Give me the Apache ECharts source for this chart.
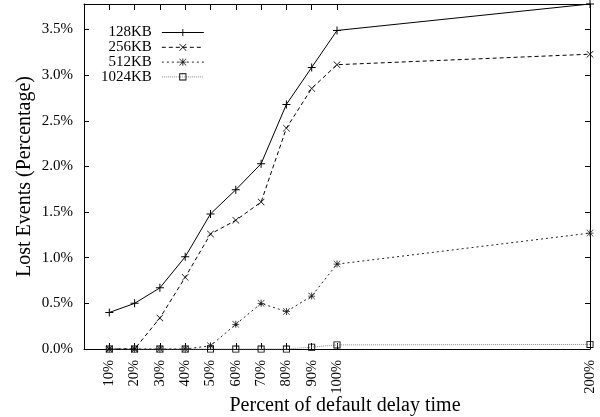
<!DOCTYPE html>
<html>
<head>
<meta charset="utf-8">
<script src="https://cdn.jsdelivr.net/npm/echarts@6/dist/echarts.min.js"></script>
<style>html,body{margin:0;padding:0;background:#fff}#c{width:600px;height:417px}</style>
</head>
<body>
<div id="c"></div>
<script>
const xValues = [10, 20, 30, 40, 50, 60, 70, 80, 90, 100, 200];
const xTickValues = [10, 20, 30, 40, 50, 60, 70, 80, 90, 100, 200];
const yTickValues = [0, 0.5, 1.0, 1.5, 2.0, 2.5, 3.0, 3.5];
const seriesNames = ['128KB', '256KB', '512KB', '1024KB'];
const s128 = [0.40, 0.50, 0.67, 1.01, 1.48, 1.745, 2.03, 2.68, 3.085, 3.49, 3.78];
const s256 = [0, 0, 0.34, 0.785, 1.26, 1.41, 1.61, 2.42, 2.855, 3.115, 3.23];
const s512 = [0, 0, 0, 0, 0.035, 0.27, 0.50, 0.41, 0.58, 0.93, 1.27];
const s1024 = [0, 0, 0, 0, 0, 0, 0, 0, 0.02, 0.045, 0.05];

const FONT = '"Liberation Serif", "DejaVu Serif", serif';
const plusPath = 'path://M0,7L16,7L16,9L0,9Z M7,0L9,0L9,16L7,16Z';
const crossPath = 'path://M1,0L8,7L15,0L16,1L9,8L16,15L15,16L8,9L1,16L0,15L7,8L0,1Z';
const starPath = 'path://M0,7L16,7L16,9L0,9Z M7,0L9,0L9,16L7,16Z M1,0L8,7L15,0L16,1L9,8L16,15L15,16L8,9L1,16L0,15L7,8L0,1Z';
const boxPath = 'path://M0,0L16,0L16,16L0,16Z M2,2L2,14L14,14L14,2Z';

function pts(arr) { return xValues.map((x, i) => [x, arr[i]]); }

const chart = echarts.init(document.getElementById('c'), null, {renderer: 'canvas'});
const axisLineStyle = {color: '#000', width: 1};
chart.setOption({
  animation: false,
  backgroundColor: '#fff',
  textStyle: {fontFamily: FONT, color: '#000'},
  grid: {left: 84, top: 4, right: 10, bottom: 68, containLabel: false, outerBoundsMode: 'none'},
  legend: {
    orient: 'vertical',
    left: 96, top: 20,
    align: 'right',
    itemWidth: 42, itemHeight: 9, itemGap: -0.2,
    lineStyle: {width: 1},
    textStyle: {fontFamily: FONT, fontSize: 15, color: '#000', padding: [0, 5, 0, 0]},
    data: seriesNames
  },
  xAxis: [{
    type: 'value', min: 0, max: 200, position: 'bottom',
    name: 'Percent of default delay time', nameLocation: 'middle', nameGap: 47, nameMoveOverlap: false,
    nameTextStyle: {fontFamily: FONT, fontSize: 20, color: '#000', padding: [0, 0, 0, 16]},
    axisLine: {show: true, onZero: false, lineStyle: axisLineStyle},
    axisTick: {show: true, inside: true, length: 6, customValues: xTickValues, lineStyle: axisLineStyle},
    axisLabel: {show: true, rotate: 90, margin: 11, fontFamily: FONT, fontSize: 14.5, color: '#000',
      customValues: xTickValues, formatter: v => v + '%'},
    splitLine: {show: false}
  }, {
    type: 'value', min: 0, max: 200, position: 'top',
    axisLine: {show: true, onZero: false, lineStyle: axisLineStyle},
    axisTick: {show: true, inside: true, length: 6, customValues: xTickValues.slice(0, 10), lineStyle: axisLineStyle},
    axisLabel: {show: false},
    splitLine: {show: false}
  }],
  yAxis: [{
    type: 'value', min: 0, max: 3.78, position: 'left',
    name: 'Lost Events (Percentage)', nameLocation: 'middle', nameGap: 49, nameMoveOverlap: false,
    nameTextStyle: {fontFamily: FONT, fontSize: 20, color: '#000'},
    axisLine: {show: true, onZero: false, lineStyle: axisLineStyle},
    axisTick: {show: true, inside: true, length: 5, customValues: yTickValues, lineStyle: axisLineStyle},
    axisLabel: {show: true, margin: 11, fontFamily: FONT, fontSize: 15, color: '#000',
      customValues: yTickValues, formatter: v => v.toFixed(1) + '%'},
    splitLine: {show: false}
  }, {
    type: 'value', min: 0, max: 3.78, position: 'right',
    axisLine: {show: true, onZero: false, lineStyle: axisLineStyle},
    axisTick: {show: true, inside: true, length: 5, customValues: yTickValues, lineStyle: axisLineStyle},
    axisLabel: {show: false},
    splitLine: {show: false}
  }],
  series: [{
    name: '128KB', type: 'line', data: pts(s128),
    symbol: plusPath, symbolSize: 8, showAllSymbol: true, clip: false,
    lineStyle: {color: '#000', width: 1, type: 'solid'},
    itemStyle: {color: '#000'}, z: 5
  }, {
    name: '256KB', type: 'line', data: pts(s256),
    symbol: crossPath, symbolSize: 7, showAllSymbol: true, clip: false,
    lineStyle: {color: '#000', width: 1, type: [4, 3]},
    itemStyle: {color: '#000'}, z: 4
  }, {
    name: '512KB', type: 'line', data: pts(s512),
    symbol: starPath, symbolSize: 7, showAllSymbol: true, clip: false,
    lineStyle: {color: '#222', width: 1, type: [2, 3]},
    itemStyle: {color: '#222'}, z: 3
  }, {
    name: '1024KB', type: 'line', data: pts(s1024),
    symbol: boxPath, symbolSize: 7, showAllSymbol: true, clip: false,
    lineStyle: {color: '#888', width: 1, type: [1, 1]},
    itemStyle: {color: '#000'}, z: 2
  }]
});
</script>
</body>
</html>
